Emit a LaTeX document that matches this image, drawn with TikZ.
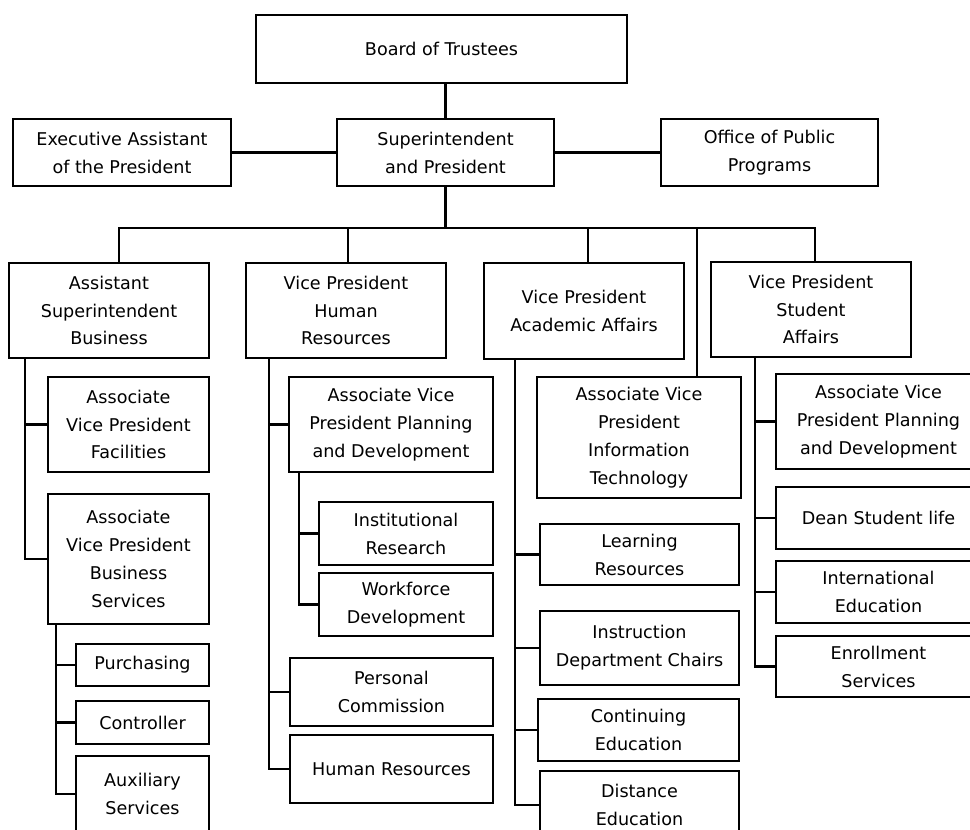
\documentclass[tikz,border=0pt]{standalone}
\usepackage{fontspec}
\setmainfont{DejaVu Sans}
\usetikzlibrary{calc}

\begin{document}
\begin{tikzpicture}[x=0.02cm, y=-0.02cm,
                    box/.style={draw, line width=1.3pt, align=center, inner sep=0pt,
                                font=\fontsize{10}{15.9}\selectfont},
                    sz/.style 2 args={minimum width=#1*0.02cm, minimum height=#2*0.02cm},
                    link/.style={line width=1.3pt},
                   ]

\useasboundingbox (0,0) rectangle (970,829);
\clip (0,0) rectangle (970,829);

% top
\node[box, sz={371}{68}] (bot) at (441.5,49) {Board of Trustees};
\node[box, sz={218}{67}] (exa) at (122,152.5) {Executive Assistant\\of the President};
\node[box, sz={217}{67}] (sup) at (445.5,152.5) {Superintendent\\and President};
\node[box, sz={217}{67}] (opp) at (769.5,152.5) {Office of Public\\Programs};

% vice presidents
\node[box, sz={200}{95}] (asb) at (109,310.5) {Assistant\\Superintendent\\Business};
\node[box, sz={200}{95}] (vphr) at (346,310.5) {Vice President\\Human\\Resources};
\node[box, sz={200}{96}] (vpaa) at (584,311) {Vice President\\Academic Affairs};
\node[box, sz={200}{95}] (vpsa) at (811,309.5) {Vice President\\Student\\Affairs};

% business
\node[box, sz={161}{95}] (fac) at (128.5,424.5) {Associate\\Vice President\\Facilities};
\node[box, sz={161}{130}] (bsv) at (128.5,559) {Associate\\Vice President\\Business\\Services};
\node[box, sz={133}{42}] (pur) at (142.5,665) {Purchasing};
\node[box, sz={133}{43}] (con) at (142.5,722.5) {Controller};
\node[box, sz={133}{76}] (aux) at (142.5,794) {Auxiliary\\Services};

% human resources
\node[box, sz={204}{95}] (hrpd) at (391,424.5) {Associate Vice\\President Planning\\and Development};
\node[box, sz={174}{63}] (ir) at (406,533.5) {Institutional\\Research};
\node[box, sz={174}{63}] (wd) at (406,604.5) {Workforce\\Development};
\node[box, sz={203}{68}] (pc) at (391.5,692) {Personal\\Commission};
\node[box, sz={203}{68}] (hr) at (391.5,769) {Human Resources};

% academic affairs
\node[box, sz={204}{121}] (avpit) at (639,437.5) {Associate Vice\\President\\Information\\Technology};
\node[box, sz={199}{61}] (lr) at (639.5,554.5) {Learning\\Resources};
\node[box, sz={199}{74}] (idc) at (639.5,648) {Instruction\\Department Chairs};
\node[box, sz={201}{62}] (ce) at (638.5,730) {Continuing\\Education};
\node[box, sz={199}{68}] (de) at (639.5,805) {Distance\\Education};

% student affairs
\node[box, sz={205}{95}] (sapd) at (878.5,421.5) {Associate Vice\\President Planning\\and Development};
\node[box, sz={205}{62}] (dsl) at (878.5,518) {Dean Student life};
\node[box, sz={205}{62}] (ie) at (878.5,592) {International\\Education};
\node[box, sz={205}{61}] (es) at (878.5,666.5) {Enrollment\\Services};

% links at the top
\draw[link] (bot.south -| sup.north) -- (sup.north);
\draw[link] (exa) -- (sup);
\draw[link] (sup) -- (opp);

\coordinate (busL) at (119,228);
\coordinate (hrD) at (348,228);
\coordinate (aaD) at (588,228);
\coordinate (itD) at (697,228);
\coordinate (saD) at (815,228);
\draw[link] (sup.south) -- (sup.south |- busL);
\draw[link] (busL |- asb.north) -- (busL) -- (saD) -- (saD |- vpsa.north);
\draw[link] (hrD) -- (hrD |- vphr.north);
\draw[link] (aaD) -- (aaD |- vpaa.north);
\draw[link] (itD) -- (itD |- avpit.north);

% trunks
\coordinate (asbT) at ($(asb.south west)+(17,0)$);
\coordinate (bsvT) at ($(bsv.south west)+(9,0)$);
\coordinate (vphrT) at ($(vphr.south west)+(24,0)$);
\coordinate (hrpdT) at ($(hrpd.south west)+(11,0)$);
\coordinate (vpaaT) at ($(vpaa.south west)+(32,0)$);
\coordinate (vpsaT) at ($(vpsa.south west)+(45,0)$);

\draw[link] (asbT) |- (bsv.west);
\draw[link] (bsvT) |- (aux.west);
\draw[link] (vphrT) |- (hr.west);
\draw[link] (hrpdT) |- (wd.west);
\draw[link] (vpaaT) |- (de.west);
\draw[link] (vpsaT) |- (es.west);

\foreach \t/\n in {asbT/fac, bsvT/pur, bsvT/con, vphrT/hrpd, vphrT/pc, hrpdT/ir,
                   vpaaT/lr, vpaaT/idc, vpaaT/ce, vpsaT/sapd, vpsaT/dsl, vpsaT/ie}
  \draw[link] (\n.west -| \t) -- (\n.west);

\end{tikzpicture}
\end{document}
